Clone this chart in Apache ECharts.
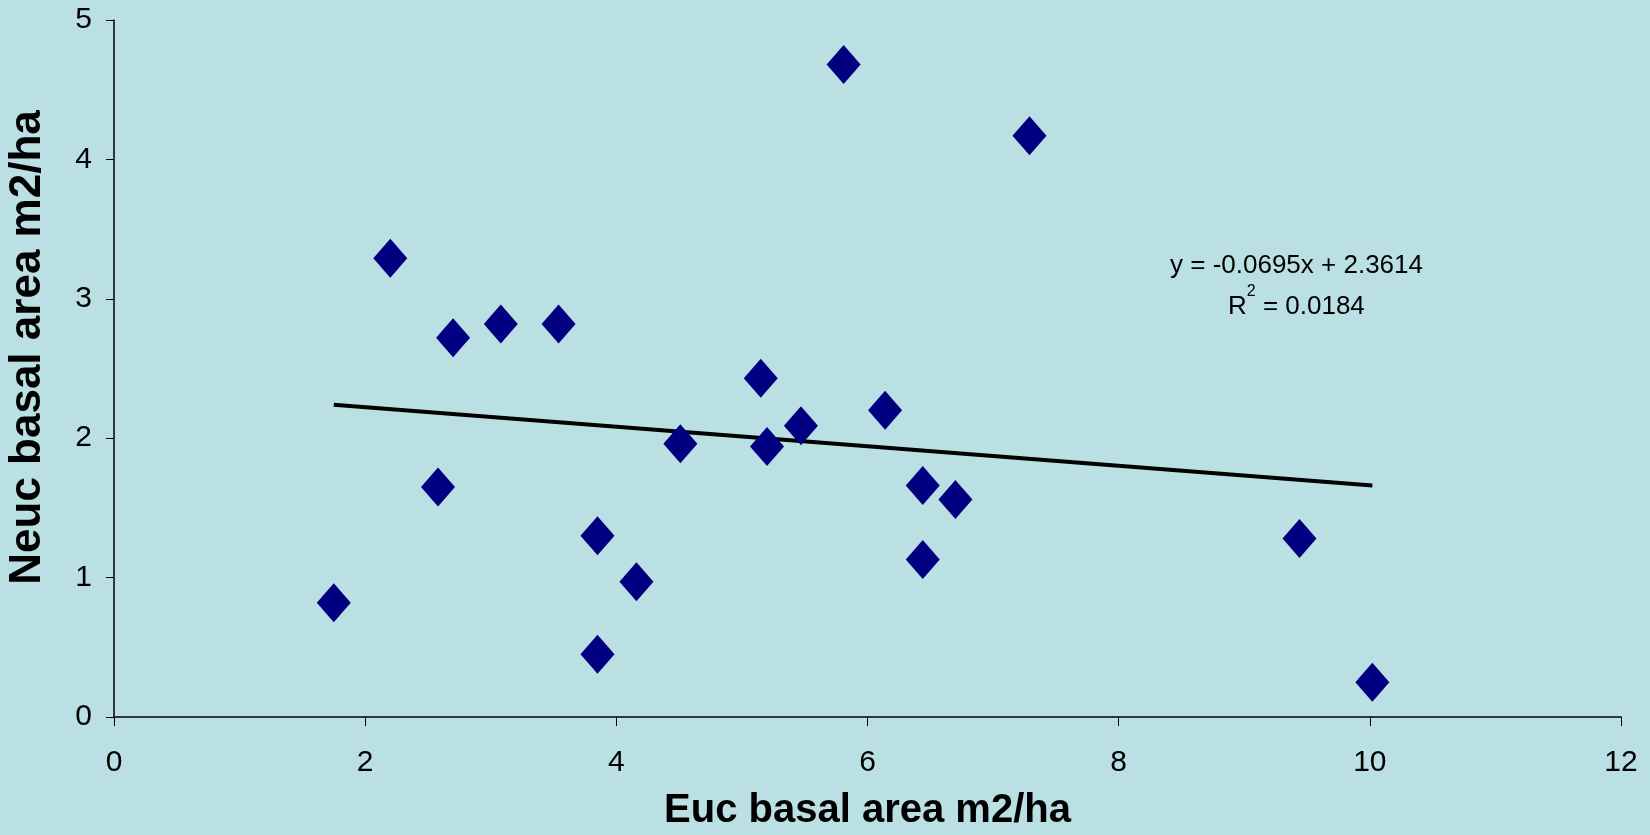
<!DOCTYPE html>
<html>
<head>
<meta charset="UTF-8">
<title>Euc vs Neuc basal area</title>
<script src="https://cdn.jsdelivr.net/npm/echarts@6/dist/echarts.min.js"></script>
<style>
	html,body{margin:0;padding:0;height:100%;background:#BAE0E3;}
	#main{width:1650px;height:835px;}
</style>
</head>
<body>
<div id="main"></div>
<script type="text/javascript">
	// Euc basal area (x) and Neuc basal area (y), m2/ha
	var eucBasal  = [1.75, 2.20, 2.58, 2.70, 3.08, 3.54, 3.85, 3.85, 4.16, 4.51, 5.15, 5.20, 5.47, 5.81, 6.14, 6.44, 6.44, 6.70, 7.29, 9.44, 10.02];
	var neucBasal = [0.82, 3.29, 1.65, 2.72, 2.82, 2.82, 1.30, 0.45, 0.97, 1.96, 2.43, 1.94, 2.09, 4.68, 2.20, 1.66, 1.13, 1.56, 4.17, 1.28, 0.25];
	// linear trend line at its two ends
	var trendX = [1.75, 10.02];
	var trendY = [2.24, 1.66];
	var xTicks = [0, 2, 4, 6, 8, 10, 12];
	var yTicks = [0, 1, 2, 3, 4, 5];
	var eqLine1 = 'y = -0.0695x + 2.3614';
	var eqLine2 = '= 0.0184';

	var points = [];
	for (var i = 0; i < eucBasal.length; i++) {
		points.push([eucBasal[i], neucBasal[i]]);
	}
	var trend = [];
	for (var j = 0; j < trendX.length; j++) {
		trend.push([trendX[j], trendY[j]]);
	}

	var font = 'Liberation Sans, Arial, sans-serif';
	var myChart = echarts.init(document.getElementById('main'));
	var option = {
		backgroundColor: '#BAE0E3',
		animation: false,
		grid: {left: 114, right: 29, top: 20, bottom: 118, outerBoundsMode: 'none'},
		xAxis: {
			type: 'value',
			min: xTicks[0], max: xTicks[xTicks.length - 1], interval: 2,
			name: 'Euc basal area m2/ha',
			nameLocation: 'middle',
			nameGap: 74,
			nameTextStyle: {fontFamily: font, fontSize: 40, fontWeight: 'bold', color: '#000'},
			axisLine: {lineStyle: {color: '#000', width: 1.5}},
			axisTick: {show: true, length: 9, lineStyle: {color: '#000', width: 1}},
			axisLabel: {margin: 31, fontFamily: font, fontSize: 30, color: '#000'},
			splitLine: {show: false}
		},
		yAxis: {
			type: 'value',
			min: yTicks[0], max: yTicks[yTicks.length - 1], interval: 1,
			name: 'Neuc basal area m2/ha',
			nameLocation: 'middle',
			nameGap: 64,
			nameRotate: 90,
			nameTextStyle: {fontFamily: font, fontSize: 44, fontWeight: 'bold', color: '#000', padding: [0, 0, 0, 42]},
			axisLine: {show: true, lineStyle: {color: '#000', width: 1.5}},
			axisTick: {show: true, length: 8, lineStyle: {color: '#000', width: 1}},
			axisLabel: {margin: 22, fontFamily: font, fontSize: 30, color: '#000'},
			splitLine: {show: false}
		},
		series: [{
			name: 'trend',
			type: 'line',
			data: trend,
			symbol: 'none',
			lineStyle: {color: '#000', width: 4},
			z: 3
		}, {
			name: 'plots',
			type: 'scatter',
			data: points,
			symbol: 'diamond',
			symbolSize: [34, 39],
			itemStyle: {color: '#000080', opacity: 1},
			z: 4
		}],
		graphic: [{
			type: 'text',
			left: 1170, top: 253,
			style: {text: eqLine1, fontFamily: font, fontSize: 26, fill: '#000'}
		}, {
			type: 'text',
			left: 1228, top: 284,
			style: {
				text: '{b|R}{s|2}{b| ' + eqLine2 + '}',
				rich: {
					b: {fontFamily: font, fontSize: 26, color: '#000', lineHeight: 36, verticalAlign: 'bottom'},
					s: {fontFamily: font, fontSize: 16, color: '#000', lineHeight: 36, verticalAlign: 'top'}
				}
			}
		}]
	};
	myChart.setOption(option);
</script>
</body>
</html>
